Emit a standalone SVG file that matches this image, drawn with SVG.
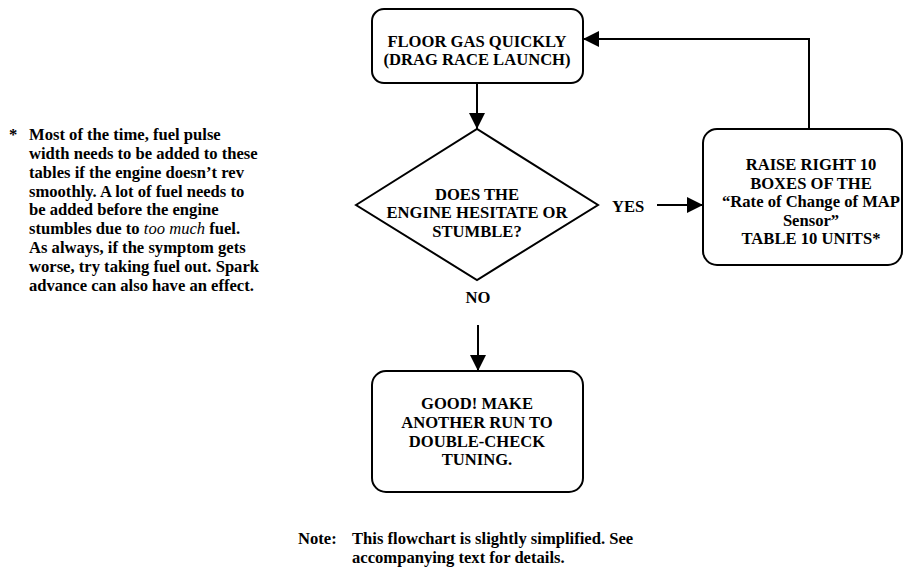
<svg xmlns="http://www.w3.org/2000/svg" width="904" height="567" viewBox="0 0 904 567">
<defs>
<style>
text{font-family:"Liberation Serif","Times New Roman",serif;font-weight:bold;font-size:16.6px;fill:#000}
.c{text-anchor:middle}
.box{fill:#fff;stroke:#000;stroke-width:2}
.ln{fill:none;stroke:#000;stroke-width:2}
</style>
<marker id="ah" viewBox="0 0 16 16" refX="16" refY="8" markerWidth="16" markerHeight="16" markerUnits="userSpaceOnUse" orient="auto">
<path d="M0,0 L16,8 L0,16 Z" fill="#000"/>
</marker>
</defs>
<rect width="904" height="567" fill="#fff"/>
<g id="connectors">
<path class="ln" d="M477,83 V129" marker-end="url(#ah)"/>
<path class="ln" d="M657,205 H703" marker-end="url(#ah)"/>
<path class="ln" d="M478,325 V371" marker-end="url(#ah)"/>
<path class="ln" d="M809,129 V39 H583" marker-end="url(#ah)"/>
</g>
<g id="start">
<rect class="box" x="372" y="9" width="211" height="74" rx="12"/>
<text class="c" x="477" y="47">FLOOR GAS QUICKLY</text>
<text class="c" x="477" y="65">(DRAG RACE LAUNCH)</text>
</g>
<g id="decision">
<polygon class="box" points="356,205 477,129 598,205 477,280"/>
<text class="c" x="477" y="200">DOES THE</text>
<text class="c" x="477" y="218">ENGINE HESITATE OR</text>
<text class="c" x="477" y="237">STUMBLE?</text>
</g>
<g id="label-yes"><text x="612" y="212">YES</text></g>
<g id="label-no"><text class="c" x="478" y="303">NO</text></g>
<g id="raise">
<rect class="box" x="703" y="129" width="199" height="136" rx="14"/>
<text class="c" x="811" y="170">RAISE RIGHT 10</text>
<text class="c" x="811" y="188.5">BOXES OF THE</text>
<text class="c" x="811" y="207">“Rate of Change of MAP</text>
<text class="c" x="811" y="225.5">Sensor”</text>
<text class="c" x="811" y="244">TABLE 10 UNITS*</text>
</g>
<g id="good">
<rect class="box" x="372" y="371" width="211" height="121" rx="14"/>
<text class="c" x="477" y="409">GOOD! MAKE</text>
<text class="c" x="477" y="428">ANOTHER RUN TO</text>
<text class="c" x="477" y="447">DOUBLE-CHECK</text>
<text class="c" x="477" y="465">TUNING.</text>
</g>
<g id="footnote">
<text x="9" y="140">*</text>
<text x="29" y="140">Most of the time, fuel pulse</text>
<text x="29" y="159">width needs to be added to these</text>
<text x="29" y="178">tables if the engine doesn’t rev</text>
<text x="29" y="196.5">smoothly. A lot of fuel needs to</text>
<text x="29" y="215">be added before the engine</text>
<text x="29" y="234">stumbles due to <tspan font-style="italic" font-weight="normal">too much</tspan> fuel.</text>
<text x="29" y="253">As always, if the symptom gets</text>
<text x="29" y="272">worse, try taking fuel out. Spark</text>
<text x="29" y="291">advance can also have an effect.</text>
</g>
<g id="note">
<text x="298" y="544">Note:</text>
<text x="352" y="544">This flowchart is slightly simplified. See</text>
<text x="352" y="563">accompanying text for details.</text>
</g>
</svg>
